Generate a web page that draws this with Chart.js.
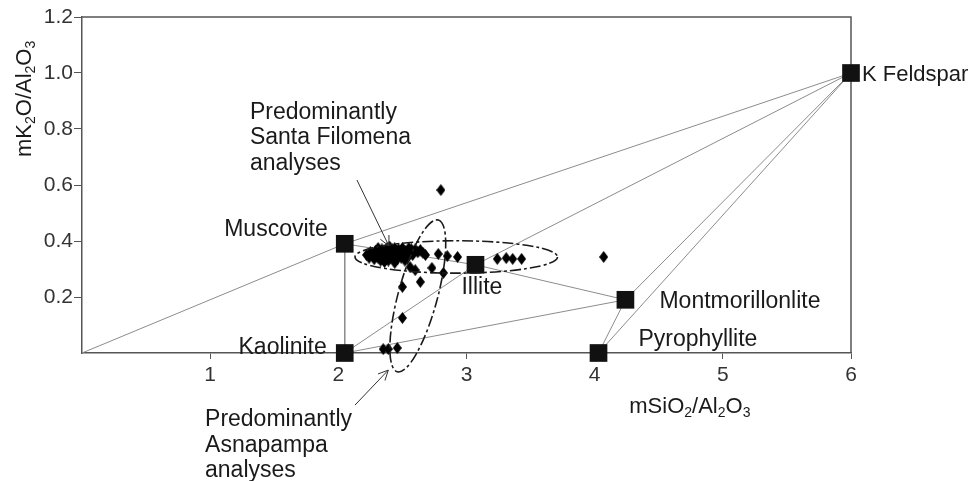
<!DOCTYPE html>
<html>
<head>
<meta charset="utf-8">
<script src="https://cdn.jsdelivr.net/npm/chart.js@4.4.0/dist/chart.umd.min.js"></script>
<style>
  html, body { margin: 0; padding: 0; background: #fff; }
  #wrap { width: 972px; height: 481px; }
</style>
</head>
<body>
<div id="wrap"><canvas id="chart"></canvas></div>
<script>
// end members (mSiO2/Al2O3, mK2O/Al2O3)
const mineralNames = ['Muscovite', 'Kaolinite', 'Illite', 'Montmorillonlite', 'Pyrophyllite', 'K Feldspar'];
const mineralX = [2.05, 2.05, 3.07, 4.24, 4.03, 6.0];
const mineralY = [0.39, 0.0, 0.315, 0.19, 0.0, 1.0];

// tie lines between end members ('origin' = 0,0)
const tieFrom = ['origin', 'Muscovite', 'Muscovite', 'Muscovite', 'Illite', 'Illite', 'Kaolinite', 'Kaolinite', 'Montmorillonlite', 'Montmorillonlite', 'Pyrophyllite'];
const tieTo = ['Muscovite', 'K Feldspar', 'Kaolinite', 'Illite', 'Montmorillonlite', 'K Feldspar', 'Illite', 'Montmorillonlite', 'Pyrophyllite', 'K Feldspar', 'K Feldspar'];

// clay analyses
const analysesX = [
  2.22, 2.24, 2.25, 2.27, 2.28, 2.29, 2.30, 2.31, 2.32, 2.33, 2.34, 2.35, 2.36, 2.37, 2.38,
  2.39, 2.40, 2.41, 2.42, 2.43, 2.44, 2.45, 2.46, 2.47, 2.48, 2.49, 2.50, 2.51, 2.52, 2.53,
  2.54, 2.55, 2.56, 2.57, 2.58, 2.60, 2.62, 2.64, 2.66, 2.36, 2.44, 2.52, 2.31, 2.40, 2.68,
  2.78, 2.85, 2.93, 3.24, 3.31, 3.36, 3.43, 2.56, 2.60, 2.73, 2.82, 2.64, 2.50, 2.50,
  2.35, 2.39, 2.46, 2.80, 4.07
];
const analysesY = [
  0.350, 0.340, 0.360, 0.350, 0.335, 0.365, 0.350, 0.340, 0.360, 0.330, 0.370, 0.350, 0.340, 0.360, 0.375,
  0.330, 0.350, 0.365, 0.340, 0.360, 0.375, 0.350, 0.335, 0.370, 0.355, 0.340, 0.375, 0.350, 0.365, 0.355,
  0.340, 0.375, 0.360, 0.370, 0.350, 0.370, 0.360, 0.368, 0.358, 0.325, 0.322, 0.330, 0.375, 0.380, 0.350,
  0.354, 0.346, 0.343, 0.336, 0.339, 0.336, 0.336, 0.307, 0.296, 0.304, 0.286, 0.254, 0.236, 0.125,
  0.014, 0.014, 0.018, 0.582, 0.343
];

const xTicks = [1, 2, 3, 4, 5, 6];
const yTicks = [0.2, 0.4, 0.6, 0.8, 1.0, 1.2];

// dashed ellipses: centre, end of long semi-axis, short/long ratio
const ellipseCX = [2.92, 2.62];
const ellipseCY = [0.343, 0.204];
const ellipseEndX = [3.71, 2.78];
const ellipseEndY = [0.343, 0.475];
const ellipseRatio = [0.16, 0.25];

// notes with arrows
const noteLines = [
  ['Predominantly', 'Santa Filomena', 'analyses'],
  ['Predominantly', 'Asnapampa', 'analyses']
];
const noteX = [1.31, 0.96];
const noteY = [0.836, -0.261];
const arrowTailX = [2.145, 2.13];
const arrowTailY = [0.618, -0.186];
const arrowHeadX = [2.395, 2.39];
const arrowHeadY = [0.382, -0.061];

const xTitle = 'mSiO2/Al2O3';
const yTitle = 'mK2O/Al2O3';

const FONT = '"Liberation Sans", Arial, sans-serif';
const INK = '#1a1a1a';

function mineralIndex(name) {
  return mineralNames.indexOf(name);
}

function pointOf(name) {
  if (name === 'origin') return { x: 0, y: 0 };
  const i = mineralIndex(name);
  return { x: mineralX[i], y: mineralY[i] };
}

// diamond marker, a bit taller than wide
function makeDiamond() {
  const c = document.createElement('canvas');
  c.width = 9;
  c.height = 12;
  const g = c.getContext('2d');
  g.fillStyle = '#000';
  g.beginPath();
  g.moveTo(4.5, 0);
  g.lineTo(9, 6);
  g.lineTo(4.5, 12);
  g.lineTo(0, 6);
  g.closePath();
  g.fill();
  return c;
}

// text with digits set as subscripts
function drawFormula(ctx, text, x, y, size) {
  let cx = x;
  for (const ch of text) {
    const sub = /[0-9]/.test(ch);
    ctx.font = (sub ? Math.round(size * 0.62) : size) + 'px ' + FONT;
    ctx.fillText(ch, cx, sub ? y + size * 0.28 : y);
    cx += ctx.measureText(ch).width;
  }
}

function drawArrow(ctx, x1, y1, x2, y2) {
  const a = Math.atan2(y2 - y1, x2 - x1);
  const len = 11;
  ctx.beginPath();
  ctx.moveTo(x1, y1);
  ctx.lineTo(x2, y2);
  ctx.moveTo(x2 - len * Math.cos(a - 0.45), y2 - len * Math.sin(a - 0.45));
  ctx.lineTo(x2, y2);
  ctx.lineTo(x2 - len * Math.cos(a + 0.45), y2 - len * Math.sin(a + 0.45));
  ctx.stroke();
}

const labelOffsets = {
  'Muscovite': { dx: -17, dy: -14, align: 'right', size: 23 },
  'Kaolinite': { dx: -18, dy: -5, align: 'right', size: 23 },
  'Illite': { dx: -14, dy: 23, align: 'left', size: 23 },
  'Montmorillonlite': { dx: 34, dy: 2, align: 'left', size: 23 },
  'Pyrophyllite': { dx: 40, dy: -13, align: 'left', size: 23 },
  'K Feldspar': { dx: 11, dy: 2, align: 'left', size: 22 }
};

const annotate = {
  id: 'annotate',
  beforeDatasetsDraw(chart) {
    const { ctx, chartArea } = chart;
    ctx.save();
    ctx.strokeStyle = '#555';
    ctx.lineWidth = 1.5;
    ctx.beginPath();
    ctx.moveTo(chartArea.left, chartArea.top);
    ctx.lineTo(chartArea.right, chartArea.top);
    ctx.lineTo(chartArea.right, chartArea.bottom);
    ctx.stroke();
    ctx.restore();
  },
  afterDatasetsDraw(chart) {
    const { ctx, chartArea } = chart;
    const xs = chart.scales.x;
    const ys = chart.scales.y;
    ctx.save();

    // ellipses
    ctx.strokeStyle = INK;
    ctx.lineWidth = 1.6;
    ctx.setLineDash([11, 3, 3, 3]);
    for (let i = 0; i < ellipseCX.length; i++) {
      const cx = xs.getPixelForValue(ellipseCX[i]);
      const cy = ys.getPixelForValue(ellipseCY[i]);
      const ex = xs.getPixelForValue(ellipseEndX[i]);
      const ey = ys.getPixelForValue(ellipseEndY[i]);
      const r1 = Math.hypot(ex - cx, ey - cy);
      const rot = Math.atan2(ey - cy, ex - cx);
      ctx.beginPath();
      ctx.ellipse(cx, cy, r1, r1 * ellipseRatio[i], rot, 0, Math.PI * 2);
      ctx.stroke();
    }
    ctx.setLineDash([]);

    // arrows
    ctx.strokeStyle = '#333';
    ctx.lineWidth = 1;
    for (let i = 0; i < arrowTailX.length; i++) {
      drawArrow(ctx,
        xs.getPixelForValue(arrowTailX[i]), ys.getPixelForValue(arrowTailY[i]),
        xs.getPixelForValue(arrowHeadX[i]), ys.getPixelForValue(arrowHeadY[i]));
    }

    // end member labels
    ctx.fillStyle = INK;
    ctx.textBaseline = 'middle';
    mineralNames.forEach((name, i) => {
      const o = labelOffsets[name];
      ctx.font = o.size + 'px ' + FONT;
      ctx.textAlign = o.align;
      ctx.fillText(name, xs.getPixelForValue(mineralX[i]) + o.dx, ys.getPixelForValue(mineralY[i]) + o.dy);
    });

    // notes
    ctx.font = '23px ' + FONT;
    ctx.textAlign = 'left';
    ctx.textBaseline = 'alphabetic';
    noteLines.forEach((lines, i) => {
      const x = xs.getPixelForValue(noteX[i]);
      const y = ys.getPixelForValue(noteY[i]);
      lines.forEach((t, j) => ctx.fillText(t, x, y + j * 25.5));
    });

    // axis titles
    ctx.textBaseline = 'middle';
    drawFormula(ctx, xTitle, xs.getPixelForValue(4.27), chartArea.bottom + 54, 22);
    ctx.save();
    ctx.translate(chartArea.left - 57, ys.getPixelForValue(0.70));
    ctx.rotate(-Math.PI / 2);
    drawFormula(ctx, yTitle, 0, 0, 22);
    ctx.restore();

    ctx.restore();
  }
};

const tieDatasets = tieFrom.map((from, i) => {
  const a = pointOf(from);
  const b = pointOf(tieTo[i]);
  return {
    type: 'scatter',
    data: [a, b],
    showLine: true,
    borderColor: '#8c8c8c',
    borderWidth: 1,
    pointRadius: 0,
    order: 3
  };
});

const ctx = document.getElementById('chart').getContext('2d');
new Chart(ctx, {
  type: 'scatter',
  data: {
    datasets: [
      {
        label: 'End members',
        data: mineralNames.map((n, i) => ({ x: mineralX[i], y: mineralY[i] })),
        pointStyle: 'rect',
        pointRadius: 12.5,
        backgroundColor: '#111',
        borderColor: '#111',
        borderWidth: 0,
        clip: false,
        order: 0
      },
      {
        label: 'Analyses',
        data: analysesX.map((x, i) => ({ x: x, y: analysesY[i] })),
        pointStyle: makeDiamond(),
        pointRadius: 6,
        clip: false,
        order: 1
      },
      ...tieDatasets
    ]
  },
  options: {
    responsive: true,
    maintainAspectRatio: false,
    animation: false,
    layout: { padding: { top: 17, right: 121, left: 0, bottom: 0 } },
    plugins: {
      legend: { display: false },
      tooltip: { enabled: false }
    },
    scales: {
      x: {
        type: 'linear',
        min: 0,
        max: 6,
        afterBuildTicks: scale => { scale.ticks = xTicks.map(v => ({ value: v })); },
        afterFit: scale => { scale.height = 128; },
        ticks: {
          color: '#333',
          font: { size: 21, family: FONT },
          padding: 4,
          maxRotation: 0
        },
        grid: { display: true, drawOnChartArea: false, drawTicks: true, tickLength: 6, color: '#555' },
        border: { display: true, color: '#555', width: 1.5 }
      },
      y: {
        type: 'linear',
        min: 0,
        max: 1.2,
        afterBuildTicks: scale => { scale.ticks = yTicks.map(v => ({ value: v })); },
        afterFit: scale => { scale.width = 82; },
        ticks: {
          color: '#333',
          font: { size: 21, family: FONT },
          padding: 1,
          callback: v => Number(v).toFixed(1)
        },
        grid: { display: true, drawOnChartArea: false, drawTicks: true, tickLength: 8, color: '#555' },
        border: { display: true, color: '#555', width: 1.5 }
      }
    }
  },
  plugins: [annotate]
});
</script>
</body>
</html>
